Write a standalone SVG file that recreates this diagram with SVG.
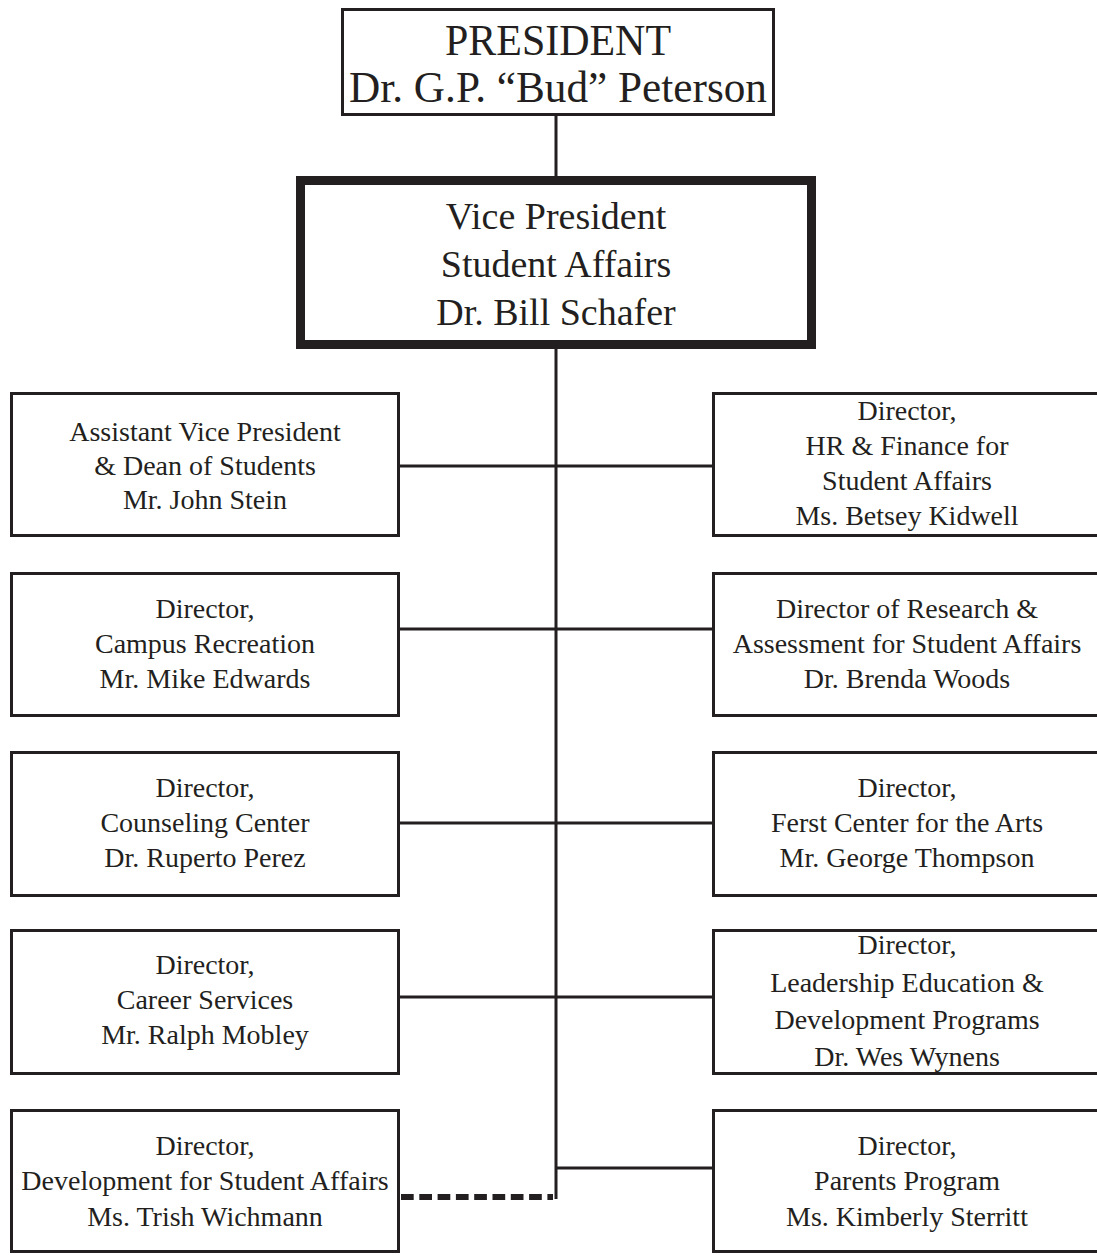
<svg xmlns="http://www.w3.org/2000/svg" width="1097" height="1255" viewBox="0 0 1097 1255">
  <style>
    .box { fill: #ffffff; stroke: #231f20; stroke-width: 3; }
    .vp { fill: #ffffff; stroke: #231f20; stroke-width: 9; }
    .link { fill: none; stroke: #231f20; stroke-width: 3; }
    .dotted { fill: none; stroke: #231f20; stroke-width: 6; stroke-dasharray: 12.7 5.6; }
    text { font-family: "Liberation Serif", "Times New Roman", serif; fill: #231f20; text-anchor: middle; }
    .t1 { font-size: 44px; }
    .t2 { font-size: 38px; }
    .t3 { font-size: 28px; }
  </style>
  <rect width="1097" height="1255" fill="#ffffff"/>

  <!-- reporting lines -->
  <g id="connectors">
    <line class="link" x1="556" y1="116" x2="556" y2="1199"/>
    <line class="link" x1="400" y1="466" x2="712" y2="466"/>
    <line class="link" x1="400" y1="629" x2="712" y2="629"/>
    <line class="link" x1="400" y1="823" x2="712" y2="823"/>
    <line class="link" x1="400" y1="997" x2="712" y2="997"/>
    <line class="link" x1="556" y1="1168" x2="712" y2="1168"/>
    <line class="dotted" x1="401" y1="1197" x2="553" y2="1197"/>
  </g>

  <g id="president">
    <rect class="box" x="342.5" y="9.5" width="431" height="105"/>
    <text class="t1" x="558" y="55" textLength="226" lengthAdjust="spacingAndGlyphs">PRESIDENT</text>
    <text class="t1" x="558" y="102" textLength="418" lengthAdjust="spacingAndGlyphs">Dr. G.P. “Bud” Peterson</text>
  </g>

  <g id="vice-president">
    <rect class="vp" x="300.5" y="180.5" width="511" height="164"/>
    <text class="t2" x="556" y="229">Vice President</text>
    <text class="t2" x="556" y="277">Student Affairs</text>
    <text class="t2" x="556" y="325">Dr. Bill Schafer</text>
  </g>

  <!-- left column -->
  <g id="dean-of-students">
    <rect class="box" x="11.5" y="393.5" width="387" height="142"/>
    <text class="t3" x="205" y="441">Assistant Vice President</text>
    <text class="t3" x="205" y="475">&amp; Dean of Students</text>
    <text class="t3" x="205" y="509">Mr. John Stein</text>
  </g>

  <g id="campus-recreation">
    <rect class="box" x="11.5" y="573.5" width="387" height="142"/>
    <text class="t3" x="205" y="618">Director,</text>
    <text class="t3" x="205" y="653">Campus Recreation</text>
    <text class="t3" x="205" y="688">Mr. Mike Edwards</text>
  </g>

  <g id="counseling-center">
    <rect class="box" x="11.5" y="752.5" width="387" height="143"/>
    <text class="t3" x="205" y="797">Director,</text>
    <text class="t3" x="205" y="832">Counseling Center</text>
    <text class="t3" x="205" y="867">Dr. Ruperto Perez</text>
  </g>

  <g id="career-services">
    <rect class="box" x="11.5" y="930.5" width="387" height="143"/>
    <text class="t3" x="205" y="974">Director,</text>
    <text class="t3" x="205" y="1009">Career Services</text>
    <text class="t3" x="205" y="1044">Mr. Ralph Mobley</text>
  </g>

  <g id="development">
    <rect class="box" x="11.5" y="1110.5" width="387" height="141"/>
    <text class="t3" x="205" y="1155">Director,</text>
    <text class="t3" x="205" y="1190">Development for Student Affairs</text>
    <text class="t3" x="205" y="1226">Ms. Trish Wichmann</text>
  </g>

  <!-- right column -->
  <g id="hr-finance">
    <rect class="box" x="713.5" y="393.5" width="400" height="142"/>
    <text class="t3" x="907" y="420">Director,</text>
    <text class="t3" x="907" y="455">HR &amp; Finance for</text>
    <text class="t3" x="907" y="490">Student Affairs</text>
    <text class="t3" x="907" y="525">Ms. Betsey Kidwell</text>
  </g>

  <g id="research-assessment">
    <rect class="box" x="713.5" y="573.5" width="400" height="142"/>
    <text class="t3" x="907" y="618">Director of Research &amp;</text>
    <text class="t3" x="907" y="653">Assessment for Student Affairs</text>
    <text class="t3" x="907" y="688">Dr. Brenda Woods</text>
  </g>

  <g id="ferst-center">
    <rect class="box" x="713.5" y="752.5" width="400" height="143"/>
    <text class="t3" x="907" y="797">Director,</text>
    <text class="t3" x="907" y="832">Ferst Center for the Arts</text>
    <text class="t3" x="907" y="867">Mr. George Thompson</text>
  </g>

  <g id="leadership-education">
    <rect class="box" x="713.5" y="930.5" width="400" height="143"/>
    <text class="t3" x="907" y="954">Director,</text>
    <text class="t3" x="907" y="992">Leadership Education &amp;</text>
    <text class="t3" x="907" y="1029">Development Programs</text>
    <text class="t3" x="907" y="1066">Dr. Wes Wynens</text>
  </g>

  <g id="parents-program">
    <rect class="box" x="713.5" y="1110.5" width="400" height="141"/>
    <text class="t3" x="907" y="1155">Director,</text>
    <text class="t3" x="907" y="1190">Parents Program</text>
    <text class="t3" x="907" y="1226">Ms. Kimberly Sterritt</text>
  </g>
</svg>
